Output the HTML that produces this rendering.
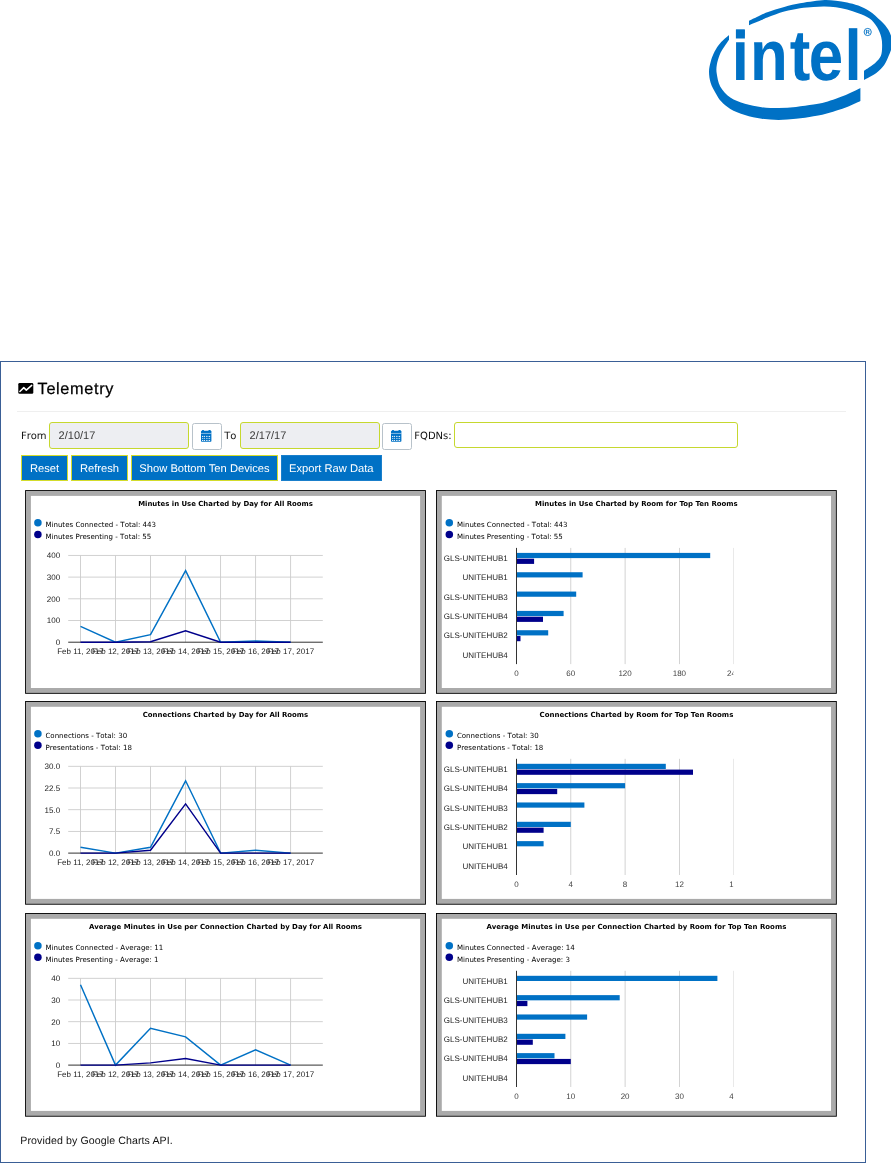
<!DOCTYPE html>
<html lang="en">
<head>
<meta charset="utf-8">
<title>Telemetry</title>
<style>
html,body{margin:0;padding:0;background:#fff}
body{text-rendering:geometricPrecision;-webkit-font-smoothing:antialiased;width:891px;height:1163px;position:relative;overflow:hidden;font-family:"Liberation Sans",Arial,sans-serif;color:#000}
.panel{position:absolute;left:0;top:361px;width:864px;height:800px;border:1px solid #3a5f96;background:#fff}
.abs{position:absolute;white-space:nowrap}
h1{position:absolute;left:37.6px;top:380px;margin:0;font:normal 16.3px/18px "Liberation Sans",Arial,sans-serif;letter-spacing:.65px;-webkit-text-stroke:.25px #000;color:#000;white-space:nowrap}
.hr{position:absolute;left:17px;top:411px;width:829px;height:1px;background:#efefef}
.lbl{position:absolute;font:10px/12px "DejaVu Sans",Verdana,sans-serif;font-kerning:none;color:#111;white-space:nowrap}
.inp{position:absolute;box-sizing:border-box;height:27px;top:422px;border:1.2px solid #c6d82f;border-radius:3px;background:#edeef2;font:11px/26px "Liberation Sans",Arial,sans-serif;color:#3a3a3a;padding-left:8.6px;white-space:nowrap}
.cal{position:absolute;box-sizing:border-box;top:423px;width:30px;height:26.5px;border:1px solid #b8c2ca;border-radius:2.5px;background:#fff}
.btn{position:absolute;box-sizing:border-box;top:455px;height:26px;border:1px solid #d3dc2b;background:#0071c5;color:#fff;font:11.2px/26.6px "Liberation Sans",Arial,sans-serif;text-align:center;white-space:nowrap}
.foot{position:absolute;left:20.3px;top:1134px;font:10.6px/14px "Liberation Sans",Arial,sans-serif;letter-spacing:.1px;color:#111;white-space:nowrap}
</style>
</head>
<body>
<svg class="logo" width="191" height="130" viewBox="700 0 191 130" style="position:absolute;left:700px;top:0">
<path fill="#0071c5" d="M729.0 35.0C727.5 36.4 722.6 40.4 720.2 43.2C717.8 46.0 716.2 48.5 714.6 51.6C713.0 54.7 711.6 58.3 710.7 61.7C709.8 65.1 709.0 68.2 709.0 71.8C709.0 75.4 709.6 79.5 710.7 83.1C711.8 86.7 713.9 90.1 715.7 93.2C717.5 96.3 718.9 99.0 721.3 101.6C723.7 104.2 726.4 106.7 730.3 108.9C734.2 111.1 739.7 113.4 744.9 115.0C750.1 116.6 756.1 117.9 761.7 118.7C767.3 119.5 772.9 119.9 778.6 119.9C784.3 119.9 790.2 119.4 796.0 118.8C801.8 118.2 808.6 117.0 813.4 116.2C818.2 115.4 821.2 114.8 825.0 113.9C828.8 113.0 831.9 112.1 835.9 110.8C839.9 109.5 844.9 107.8 849.0 106.2C853.1 104.6 858.5 101.9 860.4 101.0L860.4 88.1C858.5 89.0 853.1 91.8 849.0 93.6C844.9 95.4 839.9 97.4 835.9 98.8C831.9 100.2 828.8 101.2 825.0 102.2C821.2 103.2 818.2 103.8 813.4 104.6C808.6 105.4 801.8 106.3 796.0 106.9C790.2 107.5 784.3 108.0 778.6 108.0C772.9 108.0 767.3 107.9 761.7 107.2C756.1 106.5 750.1 105.4 744.9 103.8C739.7 102.2 734.4 100.5 730.3 97.6C726.2 94.7 722.5 90.3 720.2 86.4C718.0 82.5 717.4 77.6 716.8 74.1C716.2 70.5 716.3 68.3 716.8 65.1C717.3 61.9 718.4 58.0 719.6 55.0C720.8 52.0 722.5 49.6 724.1 47.1C725.7 44.6 728.2 41.0 729.0 39.8Z"/>
<path fill="#0071c5" d="M749.0 20.8C750.5 20.1 755.0 18.0 758.0 16.6C761.0 15.2 762.9 13.8 767.3 12.2C771.7 10.6 778.8 8.4 784.2 6.9C789.7 5.4 795.1 4.2 800.0 3.3C804.9 2.3 809.3 1.7 813.4 1.2C817.5 0.7 821.0 0.2 824.7 0.1C828.5 0.0 832.2 0.4 835.9 0.8C839.6 1.2 843.4 1.6 847.1 2.4C850.8 3.2 854.5 4.1 858.3 5.6C862.0 7.1 865.9 8.7 869.6 11.2C873.4 13.7 877.6 17.7 880.8 20.8C883.9 23.9 886.7 26.9 888.5 30.0C890.3 33.1 891.3 36.3 891.8 39.3C892.3 42.3 892.0 45.2 891.5 48.0C891.0 50.8 889.8 53.2 888.6 56.1C887.4 59.0 886.2 62.3 884.2 65.1C882.2 67.9 879.7 70.5 876.3 73.0C872.9 75.5 866.0 78.8 864.0 79.9L864.0 70.7C865.9 69.4 872.4 65.3 875.2 62.9C878.0 60.5 879.6 58.8 880.8 56.1C881.9 53.5 882.0 50.2 882.1 47.0C882.2 43.8 882.1 40.3 881.2 37.0C880.4 33.7 878.9 30.1 877.0 27.0C875.1 23.9 872.7 20.8 869.6 18.5C866.5 16.2 862.0 14.8 858.3 13.3C854.5 11.8 850.8 10.5 847.1 9.5C843.4 8.5 839.6 7.8 835.9 7.3C832.2 6.8 828.5 6.5 824.7 6.4C821.0 6.3 817.5 6.6 813.4 6.9C809.3 7.2 804.9 7.4 800.0 8.2C795.1 9.0 789.7 10.0 784.2 11.6C778.8 13.2 771.7 15.9 767.3 17.6C762.9 19.3 761.0 20.3 758.0 21.6C755.0 22.9 750.5 24.7 749.0 25.3Z"/>
<text transform="translate(0 80.3) scale(0.864 1)" x="846.8 868.2 914.1 936.0 977.5" y="0" fill="#0071c5" font-family="Liberation Sans, Arial, sans-serif" font-weight="bold" font-size="71.5">intel</text><rect x="734" y="24" width="13" height="5.6" fill="#fff"/><rect x="735.9" y="29.5" width="9" height="9" fill="#0071c5"/>
<circle cx="867.7" cy="32" r="3.6" fill="none" stroke="#0071c5" stroke-width="0.9"/>
<text x="867.7" y="34.1" text-anchor="middle" fill="#0071c5" font-family="Liberation Sans, Arial, sans-serif" font-weight="bold" font-size="6">R</text>
</svg>
<div class="panel"></div>
<svg width="24" height="20" viewBox="14 378 24 20" style="position:absolute;left:14px;top:378px">
<rect x="18.3" y="383" width="15" height="10.8" rx="1.3" fill="#000"/>
<polyline points="19.9,391.5 23.8,387.6 26.3,390.1 31.7,385.4" fill="none" stroke="#fff" stroke-width="1.5" stroke-linejoin="round" stroke-linecap="round"/>
</svg>
<h1>Telemetry</h1>
<div class="hr"></div>
<div class="lbl" style="left:20.9px;top:430.6px">From</div>
<div class="inp" style="left:49px;width:140px">2/10/17</div>
<div class="cal" style="left:192px"><svg width="12" height="13" viewBox="0 0 12 13" style="position:absolute;left:7.9px;top:6.1px"><rect x="1.0" y="0" width="2.0" height="2" rx="0.6" fill="#0071c5"/><rect x="7.5" y="0" width="2.1" height="2" rx="0.6" fill="#0071c5"/><rect x="0" y="0.8" width="10.4" height="10.9" rx="0.7" fill="#0071c5"/><rect x="0" y="2.95" width="10.4" height="0.85" fill="#fff" opacity="0.6"/><rect x="1.00" y="5.90" width="1.2" height="1.0" fill="#fff" opacity="0.95"/><rect x="2.85" y="5.90" width="1.2" height="1.0" fill="#fff" opacity="0.95"/><rect x="5.15" y="5.90" width="1.2" height="1.0" fill="#fff" opacity="0.95"/><rect x="7.90" y="5.90" width="1.2" height="1.0" fill="#fff" opacity="0.95"/><rect x="6.3" y="6.10" width="1.7" height="0.6" fill="#fff" opacity="0.45"/><rect x="1.00" y="7.90" width="1.2" height="1.0" fill="#fff" opacity="0.7"/><rect x="2.85" y="7.90" width="1.2" height="1.0" fill="#fff" opacity="0.7"/><rect x="5.15" y="7.90" width="1.2" height="1.0" fill="#fff" opacity="0.7"/><rect x="7.90" y="7.90" width="1.2" height="1.0" fill="#fff" opacity="0.7"/><rect x="6.3" y="8.10" width="1.7" height="0.6" fill="#fff" opacity="0.45"/><rect x="1.00" y="9.95" width="1.2" height="1.0" fill="#fff" opacity="0.95"/><rect x="2.85" y="9.95" width="1.2" height="1.0" fill="#fff" opacity="0.95"/><rect x="5.15" y="9.95" width="1.2" height="1.0" fill="#fff" opacity="0.95"/><rect x="7.90" y="9.95" width="1.2" height="1.0" fill="#fff" opacity="0.95"/><rect x="6.3" y="10.15" width="1.7" height="0.6" fill="#fff" opacity="0.45"/></svg></div>
<div class="lbl" style="left:224.2px;top:430.6px">To</div>
<div class="inp" style="left:240px;width:140px">2/17/17</div>
<div class="cal" style="left:382px"><svg width="12" height="13" viewBox="0 0 12 13" style="position:absolute;left:8.1px;top:6.1px"><rect x="1.0" y="0" width="2.0" height="2" rx="0.6" fill="#0071c5"/><rect x="7.5" y="0" width="2.1" height="2" rx="0.6" fill="#0071c5"/><rect x="0" y="0.8" width="10.4" height="10.9" rx="0.7" fill="#0071c5"/><rect x="0" y="2.95" width="10.4" height="0.85" fill="#fff" opacity="0.6"/><rect x="1.00" y="5.90" width="1.2" height="1.0" fill="#fff" opacity="0.95"/><rect x="2.85" y="5.90" width="1.2" height="1.0" fill="#fff" opacity="0.95"/><rect x="5.15" y="5.90" width="1.2" height="1.0" fill="#fff" opacity="0.95"/><rect x="7.90" y="5.90" width="1.2" height="1.0" fill="#fff" opacity="0.95"/><rect x="6.3" y="6.10" width="1.7" height="0.6" fill="#fff" opacity="0.45"/><rect x="1.00" y="7.90" width="1.2" height="1.0" fill="#fff" opacity="0.7"/><rect x="2.85" y="7.90" width="1.2" height="1.0" fill="#fff" opacity="0.7"/><rect x="5.15" y="7.90" width="1.2" height="1.0" fill="#fff" opacity="0.7"/><rect x="7.90" y="7.90" width="1.2" height="1.0" fill="#fff" opacity="0.7"/><rect x="6.3" y="8.10" width="1.7" height="0.6" fill="#fff" opacity="0.45"/><rect x="1.00" y="9.95" width="1.2" height="1.0" fill="#fff" opacity="0.95"/><rect x="2.85" y="9.95" width="1.2" height="1.0" fill="#fff" opacity="0.95"/><rect x="5.15" y="9.95" width="1.2" height="1.0" fill="#fff" opacity="0.95"/><rect x="7.90" y="9.95" width="1.2" height="1.0" fill="#fff" opacity="0.95"/><rect x="6.3" y="10.15" width="1.7" height="0.6" fill="#fff" opacity="0.45"/></svg></div>
<div class="lbl" style="left:414.3px;top:430.6px">FQDNs:</div>
<div class="inp" style="left:454px;width:284px;height:26px;background:#fff"></div>
<div class="btn" style="left:21px;width:47px">Reset</div>
<div class="btn" style="left:71px;width:57px">Refresh</div>
<div class="btn" style="left:131px;width:147px">Show Bottom Ten Devices</div>
<div class="btn" style="left:280.5px;width:101.5px;border-color:#1a7fcb">Export Raw Data</div>
<svg class="chart" text-rendering="geometricPrecision" width="404" height="207" style="position:absolute;left:24px;top:489px"><g transform="translate(1.1 1.1)"><rect x="0" y="0" width="400.8" height="203.7" fill="#000"/><rect x="0.9" y="0.9" width="399.0" height="201.9" fill="#aaa"/><rect x="5.8" y="5.8" width="389.2" height="192.1" fill="#fff"/><text x="200.4" y="15.9" text-anchor="middle" font-family="DejaVu Sans, Verdana, sans-serif" font-weight="bold" font-size="7" fill="#000" textLength="174.6" lengthAdjust="spacingAndGlyphs">Minutes in Use Charted by Day for All Rooms</text><circle cx="12.8" cy="32.7" r="3.75" fill="#0071c5"/><circle cx="12.8" cy="44.3" r="3.75" fill="#00008b"/><text x="20.3" y="36.5" font-family="DejaVu Sans, Verdana, sans-serif" style="font-kerning:none" font-size="7.05" fill="#000">Minutes Connected - Total: 443</text><text x="20.3" y="48.6" font-family="DejaVu Sans, Verdana, sans-serif" style="font-kerning:none" font-size="7.05" fill="#000">Minutes Presenting - Total: 55</text><rect x="43.1" y="64.85" width="254.6" height="0.9" fill="#ccc"/><text x="35" y="68.2" text-anchor="end" font-family="Liberation Sans, Arial, sans-serif" font-size="8" fill="#222">400</text><rect x="43.1" y="86.55" width="254.6" height="0.9" fill="#ccc"/><text x="35" y="89.9" text-anchor="end" font-family="Liberation Sans, Arial, sans-serif" font-size="8" fill="#222">300</text><rect x="43.1" y="108.25" width="254.6" height="0.9" fill="#ccc"/><text x="35" y="111.6" text-anchor="end" font-family="Liberation Sans, Arial, sans-serif" font-size="8" fill="#222">200</text><rect x="43.1" y="129.95" width="254.6" height="0.9" fill="#ccc"/><text x="35" y="133.3" text-anchor="end" font-family="Liberation Sans, Arial, sans-serif" font-size="8" fill="#222">100</text><text x="35" y="155.0" text-anchor="end" font-family="Liberation Sans, Arial, sans-serif" font-size="8" fill="#222">0</text><rect x="54.95" y="65.3" width="0.9" height="86.8" fill="#ccc"/><rect x="89.97" y="65.3" width="0.9" height="86.8" fill="#ccc"/><rect x="124.99" y="65.3" width="0.9" height="86.8" fill="#ccc"/><rect x="160.01" y="65.3" width="0.9" height="86.8" fill="#ccc"/><rect x="195.03" y="65.3" width="0.9" height="86.8" fill="#ccc"/><rect x="230.05" y="65.3" width="0.9" height="86.8" fill="#ccc"/><rect x="265.07" y="65.3" width="0.9" height="86.8" fill="#ccc"/><rect x="43.1" y="151.6" width="254.6" height="1" fill="#333"/><polyline points="55.4,136.3 90.4,152.1 125.4,144.5 160.5,80.5 195.5,152.1 230.5,151.0 265.5,152.1" fill="none" stroke="#0071c5" stroke-width="1.45" stroke-linejoin="miter"/><polyline points="55.4,152.1 90.4,152.1 125.4,151.7 160.5,140.6 195.5,152.1 230.5,152.1 265.5,152.1" fill="none" stroke="#00008b" stroke-width="1.45" stroke-linejoin="miter"/><text x="55.4" y="164.3" text-anchor="middle" font-family="Liberation Sans, Arial, sans-serif" font-size="8" fill="#222">Feb 11, 2017</text><text x="90.4" y="164.3" text-anchor="middle" font-family="Liberation Sans, Arial, sans-serif" font-size="8" fill="#222">Feb 12, 2017</text><text x="125.4" y="164.3" text-anchor="middle" font-family="Liberation Sans, Arial, sans-serif" font-size="8" fill="#222">Feb 13, 2017</text><text x="160.5" y="164.3" text-anchor="middle" font-family="Liberation Sans, Arial, sans-serif" font-size="8" fill="#222">Feb 14, 2017</text><text x="195.5" y="164.3" text-anchor="middle" font-family="Liberation Sans, Arial, sans-serif" font-size="8" fill="#222">Feb 15, 2017</text><text x="230.5" y="164.3" text-anchor="middle" font-family="Liberation Sans, Arial, sans-serif" font-size="8" fill="#222">Feb 16, 2017</text><text x="265.5" y="164.3" text-anchor="middle" font-family="Liberation Sans, Arial, sans-serif" font-size="8" fill="#222">Feb 17, 2017</text></g></svg>
<svg class="chart" text-rendering="geometricPrecision" width="404" height="207" style="position:absolute;left:435px;top:489px"><g transform="translate(1.0 1.1)"><rect x="0" y="0" width="400.8" height="203.7" fill="#000"/><rect x="0.9" y="0.9" width="399.0" height="201.9" fill="#aaa"/><rect x="5.8" y="5.8" width="389.2" height="192.1" fill="#fff"/><text x="200.4" y="15.9" text-anchor="middle" font-family="DejaVu Sans, Verdana, sans-serif" font-weight="bold" font-size="7" fill="#000" textLength="202.7" lengthAdjust="spacingAndGlyphs">Minutes in Use Charted by Room for Top Ten Rooms</text><circle cx="13.3" cy="32.7" r="3.75" fill="#0071c5"/><circle cx="13.3" cy="44.3" r="3.75" fill="#00008b"/><text x="20.9" y="36.5" font-family="DejaVu Sans, Verdana, sans-serif" style="font-kerning:none" font-size="7.05" fill="#000">Minutes Connected - Total: 443</text><text x="20.9" y="48.6" font-family="DejaVu Sans, Verdana, sans-serif" style="font-kerning:none" font-size="7.05" fill="#000">Minutes Presenting - Total: 55</text><rect x="134.40" y="57.8" width="0.8" height="116.2" fill="#c8c8c8"/><rect x="188.70" y="57.8" width="0.8" height="116.2" fill="#c8c8c8"/><rect x="243.00" y="57.8" width="0.8" height="116.2" fill="#c8c8c8"/><rect x="297.30" y="57.8" width="0.4" height="116.2" fill="#c8c8c8"/><rect x="80.5" y="62.80" width="193.7" height="5.2" fill="#0071c5"/><rect x="80.5" y="68.60" width="17.6" height="5.2" fill="#00008b"/><text x="71.8" y="71.0" text-anchor="end" font-family="Liberation Sans, Arial, sans-serif" font-size="8" fill="#222">GLS-UNITEHUB1</text><rect x="80.5" y="82.13" width="66.1" height="5.2" fill="#0071c5"/><text x="71.8" y="90.3" text-anchor="end" font-family="Liberation Sans, Arial, sans-serif" font-size="8" fill="#222">UNITEHUB1</text><rect x="80.5" y="101.46" width="59.7" height="5.2" fill="#0071c5"/><text x="71.8" y="109.7" text-anchor="end" font-family="Liberation Sans, Arial, sans-serif" font-size="8" fill="#222">GLS-UNITEHUB3</text><rect x="80.5" y="120.79" width="47.1" height="5.2" fill="#0071c5"/><rect x="80.5" y="126.59" width="26.5" height="5.2" fill="#00008b"/><text x="71.8" y="129.0" text-anchor="end" font-family="Liberation Sans, Arial, sans-serif" font-size="8" fill="#222">GLS-UNITEHUB4</text><rect x="80.5" y="140.12" width="31.7" height="5.2" fill="#0071c5"/><rect x="80.5" y="145.92" width="4.0" height="5.2" fill="#00008b"/><text x="71.8" y="148.3" text-anchor="end" font-family="Liberation Sans, Arial, sans-serif" font-size="8" fill="#222">GLS-UNITEHUB2</text><text x="71.8" y="167.6" text-anchor="end" font-family="Liberation Sans, Arial, sans-serif" font-size="8" fill="#222">UNITEHUB4</text><rect x="80.0" y="57.8" width="1" height="116.2" fill="#333"/><clipPath id="clip1"><rect x="0" y="0" width="297.4" height="203.7"/></clipPath><g clip-path="url(#clip1)"><text x="80.5" y="186.2" text-anchor="middle" font-family="Liberation Sans, Arial, sans-serif" font-size="8" fill="#444">0</text><text x="134.8" y="186.2" text-anchor="middle" font-family="Liberation Sans, Arial, sans-serif" font-size="8" fill="#444">60</text><text x="189.1" y="186.2" text-anchor="middle" font-family="Liberation Sans, Arial, sans-serif" font-size="8" fill="#444">120</text><text x="243.4" y="186.2" text-anchor="middle" font-family="Liberation Sans, Arial, sans-serif" font-size="8" fill="#444">180</text><text x="297.7" y="186.2" text-anchor="middle" font-family="Liberation Sans, Arial, sans-serif" font-size="8" fill="#444">240</text></g></g></svg>
<svg class="chart" text-rendering="geometricPrecision" width="404" height="207" style="position:absolute;left:24px;top:699px"><g transform="translate(1.1 2.0)"><rect x="0" y="0" width="400.8" height="203.7" fill="#000"/><rect x="0.9" y="0.9" width="399.0" height="201.9" fill="#aaa"/><rect x="5.8" y="5.8" width="389.2" height="192.1" fill="#fff"/><text x="200.4" y="15.9" text-anchor="middle" font-family="DejaVu Sans, Verdana, sans-serif" font-weight="bold" font-size="7" fill="#000" textLength="165.5" lengthAdjust="spacingAndGlyphs">Connections Charted by Day for All Rooms</text><circle cx="12.8" cy="32.7" r="3.75" fill="#0071c5"/><circle cx="12.8" cy="44.3" r="3.75" fill="#00008b"/><text x="20.3" y="36.5" font-family="DejaVu Sans, Verdana, sans-serif" style="font-kerning:none" font-size="7.05" fill="#000">Connections - Total: 30</text><text x="20.3" y="48.6" font-family="DejaVu Sans, Verdana, sans-serif" style="font-kerning:none" font-size="7.05" fill="#000">Presentations - Total: 18</text><rect x="43.1" y="64.85" width="254.6" height="0.9" fill="#ccc"/><text x="35" y="68.2" text-anchor="end" font-family="Liberation Sans, Arial, sans-serif" font-size="8" fill="#222">30.0</text><rect x="43.1" y="86.55" width="254.6" height="0.9" fill="#ccc"/><text x="35" y="89.9" text-anchor="end" font-family="Liberation Sans, Arial, sans-serif" font-size="8" fill="#222">22.5</text><rect x="43.1" y="108.25" width="254.6" height="0.9" fill="#ccc"/><text x="35" y="111.6" text-anchor="end" font-family="Liberation Sans, Arial, sans-serif" font-size="8" fill="#222">15.0</text><rect x="43.1" y="129.95" width="254.6" height="0.9" fill="#ccc"/><text x="35" y="133.3" text-anchor="end" font-family="Liberation Sans, Arial, sans-serif" font-size="8" fill="#222">7.5</text><text x="35" y="155.0" text-anchor="end" font-family="Liberation Sans, Arial, sans-serif" font-size="8" fill="#222">0.0</text><rect x="54.95" y="65.3" width="0.9" height="86.8" fill="#ccc"/><rect x="89.97" y="65.3" width="0.9" height="86.8" fill="#ccc"/><rect x="124.99" y="65.3" width="0.9" height="86.8" fill="#ccc"/><rect x="160.01" y="65.3" width="0.9" height="86.8" fill="#ccc"/><rect x="195.03" y="65.3" width="0.9" height="86.8" fill="#ccc"/><rect x="230.05" y="65.3" width="0.9" height="86.8" fill="#ccc"/><rect x="265.07" y="65.3" width="0.9" height="86.8" fill="#ccc"/><rect x="43.1" y="151.6" width="254.6" height="1" fill="#333"/><polyline points="55.4,146.3 90.4,152.1 125.4,146.3 160.5,79.8 195.5,152.1 230.5,149.2 265.5,152.1" fill="none" stroke="#0071c5" stroke-width="1.45" stroke-linejoin="miter"/><polyline points="55.4,152.1 90.4,152.1 125.4,149.2 160.5,102.9 195.5,152.1 230.5,152.1 265.5,152.1" fill="none" stroke="#00008b" stroke-width="1.45" stroke-linejoin="miter"/><text x="55.4" y="164.3" text-anchor="middle" font-family="Liberation Sans, Arial, sans-serif" font-size="8" fill="#222">Feb 11, 2017</text><text x="90.4" y="164.3" text-anchor="middle" font-family="Liberation Sans, Arial, sans-serif" font-size="8" fill="#222">Feb 12, 2017</text><text x="125.4" y="164.3" text-anchor="middle" font-family="Liberation Sans, Arial, sans-serif" font-size="8" fill="#222">Feb 13, 2017</text><text x="160.5" y="164.3" text-anchor="middle" font-family="Liberation Sans, Arial, sans-serif" font-size="8" fill="#222">Feb 14, 2017</text><text x="195.5" y="164.3" text-anchor="middle" font-family="Liberation Sans, Arial, sans-serif" font-size="8" fill="#222">Feb 15, 2017</text><text x="230.5" y="164.3" text-anchor="middle" font-family="Liberation Sans, Arial, sans-serif" font-size="8" fill="#222">Feb 16, 2017</text><text x="265.5" y="164.3" text-anchor="middle" font-family="Liberation Sans, Arial, sans-serif" font-size="8" fill="#222">Feb 17, 2017</text></g></svg>
<svg class="chart" text-rendering="geometricPrecision" width="404" height="207" style="position:absolute;left:435px;top:699px"><g transform="translate(1.0 2.0)"><rect x="0" y="0" width="400.8" height="203.7" fill="#000"/><rect x="0.9" y="0.9" width="399.0" height="201.9" fill="#aaa"/><rect x="5.8" y="5.8" width="389.2" height="192.1" fill="#fff"/><text x="200.4" y="15.9" text-anchor="middle" font-family="DejaVu Sans, Verdana, sans-serif" font-weight="bold" font-size="7" fill="#000" textLength="193.8" lengthAdjust="spacingAndGlyphs">Connections Charted by Room for Top Ten Rooms</text><circle cx="13.3" cy="32.7" r="3.75" fill="#0071c5"/><circle cx="13.3" cy="44.3" r="3.75" fill="#00008b"/><text x="20.9" y="36.5" font-family="DejaVu Sans, Verdana, sans-serif" style="font-kerning:none" font-size="7.05" fill="#000">Connections - Total: 30</text><text x="20.9" y="48.6" font-family="DejaVu Sans, Verdana, sans-serif" style="font-kerning:none" font-size="7.05" fill="#000">Presentations - Total: 18</text><rect x="134.40" y="57.8" width="0.8" height="116.2" fill="#c8c8c8"/><rect x="188.70" y="57.8" width="0.8" height="116.2" fill="#c8c8c8"/><rect x="243.00" y="57.8" width="0.8" height="116.2" fill="#c8c8c8"/><rect x="297.30" y="57.8" width="0.4" height="116.2" fill="#c8c8c8"/><rect x="80.5" y="62.80" width="149.3" height="5.2" fill="#0071c5"/><rect x="80.5" y="68.60" width="176.5" height="5.2" fill="#00008b"/><text x="71.8" y="71.0" text-anchor="end" font-family="Liberation Sans, Arial, sans-serif" font-size="8" fill="#222">GLS-UNITEHUB1</text><rect x="80.5" y="82.13" width="108.6" height="5.2" fill="#0071c5"/><rect x="80.5" y="87.93" width="40.7" height="5.2" fill="#00008b"/><text x="71.8" y="90.3" text-anchor="end" font-family="Liberation Sans, Arial, sans-serif" font-size="8" fill="#222">GLS-UNITEHUB4</text><rect x="80.5" y="101.46" width="67.9" height="5.2" fill="#0071c5"/><text x="71.8" y="109.7" text-anchor="end" font-family="Liberation Sans, Arial, sans-serif" font-size="8" fill="#222">GLS-UNITEHUB3</text><rect x="80.5" y="120.79" width="54.3" height="5.2" fill="#0071c5"/><rect x="80.5" y="126.59" width="27.1" height="5.2" fill="#00008b"/><text x="71.8" y="129.0" text-anchor="end" font-family="Liberation Sans, Arial, sans-serif" font-size="8" fill="#222">GLS-UNITEHUB2</text><rect x="80.5" y="140.12" width="27.1" height="5.2" fill="#0071c5"/><text x="71.8" y="148.3" text-anchor="end" font-family="Liberation Sans, Arial, sans-serif" font-size="8" fill="#222">UNITEHUB1</text><text x="71.8" y="167.6" text-anchor="end" font-family="Liberation Sans, Arial, sans-serif" font-size="8" fill="#222">UNITEHUB4</text><rect x="80.0" y="57.8" width="1" height="116.2" fill="#333"/><clipPath id="clip3"><rect x="0" y="0" width="297.4" height="203.7"/></clipPath><g clip-path="url(#clip3)"><text x="80.5" y="186.2" text-anchor="middle" font-family="Liberation Sans, Arial, sans-serif" font-size="8" fill="#444">0</text><text x="134.8" y="186.2" text-anchor="middle" font-family="Liberation Sans, Arial, sans-serif" font-size="8" fill="#444">4</text><text x="189.1" y="186.2" text-anchor="middle" font-family="Liberation Sans, Arial, sans-serif" font-size="8" fill="#444">8</text><text x="243.4" y="186.2" text-anchor="middle" font-family="Liberation Sans, Arial, sans-serif" font-size="8" fill="#444">12</text><text x="297.7" y="186.2" text-anchor="middle" font-family="Liberation Sans, Arial, sans-serif" font-size="8" fill="#444">16</text></g></g></svg>
<svg class="chart" text-rendering="geometricPrecision" width="404" height="207" style="position:absolute;left:24px;top:912px"><g transform="translate(1.1 1.0)"><rect x="0" y="0" width="400.8" height="203.7" fill="#000"/><rect x="0.9" y="0.9" width="399.0" height="201.9" fill="#aaa"/><rect x="5.8" y="5.8" width="389.2" height="192.1" fill="#fff"/><text x="200.4" y="15.9" text-anchor="middle" font-family="DejaVu Sans, Verdana, sans-serif" font-weight="bold" font-size="7" fill="#000" textLength="273" lengthAdjust="spacingAndGlyphs">Average Minutes in Use per Connection Charted by Day for All Rooms</text><circle cx="12.8" cy="32.7" r="3.75" fill="#0071c5"/><circle cx="12.8" cy="44.3" r="3.75" fill="#00008b"/><text x="20.3" y="36.5" font-family="DejaVu Sans, Verdana, sans-serif" style="font-kerning:none" font-size="7.05" fill="#000">Minutes Connected - Average: 11</text><text x="20.3" y="48.6" font-family="DejaVu Sans, Verdana, sans-serif" style="font-kerning:none" font-size="7.05" fill="#000">Minutes Presenting - Average: 1</text><rect x="43.1" y="64.85" width="254.6" height="0.9" fill="#ccc"/><text x="35" y="68.2" text-anchor="end" font-family="Liberation Sans, Arial, sans-serif" font-size="8" fill="#222">40</text><rect x="43.1" y="86.55" width="254.6" height="0.9" fill="#ccc"/><text x="35" y="89.9" text-anchor="end" font-family="Liberation Sans, Arial, sans-serif" font-size="8" fill="#222">30</text><rect x="43.1" y="108.25" width="254.6" height="0.9" fill="#ccc"/><text x="35" y="111.6" text-anchor="end" font-family="Liberation Sans, Arial, sans-serif" font-size="8" fill="#222">20</text><rect x="43.1" y="129.95" width="254.6" height="0.9" fill="#ccc"/><text x="35" y="133.3" text-anchor="end" font-family="Liberation Sans, Arial, sans-serif" font-size="8" fill="#222">10</text><text x="35" y="155.0" text-anchor="end" font-family="Liberation Sans, Arial, sans-serif" font-size="8" fill="#222">0</text><rect x="54.95" y="65.3" width="0.9" height="86.8" fill="#ccc"/><rect x="89.97" y="65.3" width="0.9" height="86.8" fill="#ccc"/><rect x="124.99" y="65.3" width="0.9" height="86.8" fill="#ccc"/><rect x="160.01" y="65.3" width="0.9" height="86.8" fill="#ccc"/><rect x="195.03" y="65.3" width="0.9" height="86.8" fill="#ccc"/><rect x="230.05" y="65.3" width="0.9" height="86.8" fill="#ccc"/><rect x="265.07" y="65.3" width="0.9" height="86.8" fill="#ccc"/><rect x="43.1" y="151.6" width="254.6" height="1" fill="#333"/><polyline points="55.4,71.8 90.4,152.1 125.4,115.2 160.5,123.9 195.5,152.1 230.5,136.9 265.5,152.1" fill="none" stroke="#0071c5" stroke-width="1.45" stroke-linejoin="miter"/><polyline points="55.4,152.1 90.4,152.1 125.4,149.9 160.5,145.6 195.5,152.1 230.5,152.1 265.5,152.1" fill="none" stroke="#00008b" stroke-width="1.45" stroke-linejoin="miter"/><text x="55.4" y="164.3" text-anchor="middle" font-family="Liberation Sans, Arial, sans-serif" font-size="8" fill="#222">Feb 11, 2017</text><text x="90.4" y="164.3" text-anchor="middle" font-family="Liberation Sans, Arial, sans-serif" font-size="8" fill="#222">Feb 12, 2017</text><text x="125.4" y="164.3" text-anchor="middle" font-family="Liberation Sans, Arial, sans-serif" font-size="8" fill="#222">Feb 13, 2017</text><text x="160.5" y="164.3" text-anchor="middle" font-family="Liberation Sans, Arial, sans-serif" font-size="8" fill="#222">Feb 14, 2017</text><text x="195.5" y="164.3" text-anchor="middle" font-family="Liberation Sans, Arial, sans-serif" font-size="8" fill="#222">Feb 15, 2017</text><text x="230.5" y="164.3" text-anchor="middle" font-family="Liberation Sans, Arial, sans-serif" font-size="8" fill="#222">Feb 16, 2017</text><text x="265.5" y="164.3" text-anchor="middle" font-family="Liberation Sans, Arial, sans-serif" font-size="8" fill="#222">Feb 17, 2017</text></g></svg>
<svg class="chart" text-rendering="geometricPrecision" width="404" height="207" style="position:absolute;left:435px;top:912px"><g transform="translate(1.0 1.0)"><rect x="0" y="0" width="400.8" height="203.7" fill="#000"/><rect x="0.9" y="0.9" width="399.0" height="201.9" fill="#aaa"/><rect x="5.8" y="5.8" width="389.2" height="192.1" fill="#fff"/><text x="200.4" y="15.9" text-anchor="middle" font-family="DejaVu Sans, Verdana, sans-serif" font-weight="bold" font-size="7" fill="#000" textLength="299.8" lengthAdjust="spacingAndGlyphs">Average Minutes in Use per Connection Charted by Room for Top Ten Rooms</text><circle cx="13.3" cy="32.7" r="3.75" fill="#0071c5"/><circle cx="13.3" cy="44.3" r="3.75" fill="#00008b"/><text x="20.9" y="36.5" font-family="DejaVu Sans, Verdana, sans-serif" style="font-kerning:none" font-size="7.05" fill="#000">Minutes Connected - Average: 14</text><text x="20.9" y="48.6" font-family="DejaVu Sans, Verdana, sans-serif" style="font-kerning:none" font-size="7.05" fill="#000">Minutes Presenting - Average: 3</text><rect x="134.40" y="57.8" width="0.8" height="116.2" fill="#c8c8c8"/><rect x="188.70" y="57.8" width="0.8" height="116.2" fill="#c8c8c8"/><rect x="243.00" y="57.8" width="0.8" height="116.2" fill="#c8c8c8"/><rect x="297.30" y="57.8" width="0.4" height="116.2" fill="#c8c8c8"/><rect x="80.5" y="62.80" width="200.9" height="5.2" fill="#0071c5"/><text x="71.8" y="71.0" text-anchor="end" font-family="Liberation Sans, Arial, sans-serif" font-size="8" fill="#222">UNITEHUB1</text><rect x="80.5" y="82.13" width="103.2" height="5.2" fill="#0071c5"/><rect x="80.5" y="87.93" width="10.9" height="5.2" fill="#00008b"/><text x="71.8" y="90.3" text-anchor="end" font-family="Liberation Sans, Arial, sans-serif" font-size="8" fill="#222">GLS-UNITEHUB1</text><rect x="80.5" y="101.46" width="70.6" height="5.2" fill="#0071c5"/><text x="71.8" y="109.7" text-anchor="end" font-family="Liberation Sans, Arial, sans-serif" font-size="8" fill="#222">GLS-UNITEHUB3</text><rect x="80.5" y="120.79" width="48.9" height="5.2" fill="#0071c5"/><rect x="80.5" y="126.59" width="16.3" height="5.2" fill="#00008b"/><text x="71.8" y="129.0" text-anchor="end" font-family="Liberation Sans, Arial, sans-serif" font-size="8" fill="#222">GLS-UNITEHUB2</text><rect x="80.5" y="140.12" width="38.0" height="5.2" fill="#0071c5"/><rect x="80.5" y="145.92" width="54.3" height="5.2" fill="#00008b"/><text x="71.8" y="148.3" text-anchor="end" font-family="Liberation Sans, Arial, sans-serif" font-size="8" fill="#222">GLS-UNITEHUB4</text><text x="71.8" y="167.6" text-anchor="end" font-family="Liberation Sans, Arial, sans-serif" font-size="8" fill="#222">UNITEHUB4</text><rect x="80.0" y="57.8" width="1" height="116.2" fill="#333"/><clipPath id="clip5"><rect x="0" y="0" width="297.4" height="203.7"/></clipPath><g clip-path="url(#clip5)"><text x="80.5" y="186.2" text-anchor="middle" font-family="Liberation Sans, Arial, sans-serif" font-size="8" fill="#444">0</text><text x="134.8" y="186.2" text-anchor="middle" font-family="Liberation Sans, Arial, sans-serif" font-size="8" fill="#444">10</text><text x="189.1" y="186.2" text-anchor="middle" font-family="Liberation Sans, Arial, sans-serif" font-size="8" fill="#444">20</text><text x="243.4" y="186.2" text-anchor="middle" font-family="Liberation Sans, Arial, sans-serif" font-size="8" fill="#444">30</text><text x="297.7" y="186.2" text-anchor="middle" font-family="Liberation Sans, Arial, sans-serif" font-size="8" fill="#444">40</text></g></g></svg>

<div class="foot">Provided by Google Charts API.</div>
</body>
</html>
